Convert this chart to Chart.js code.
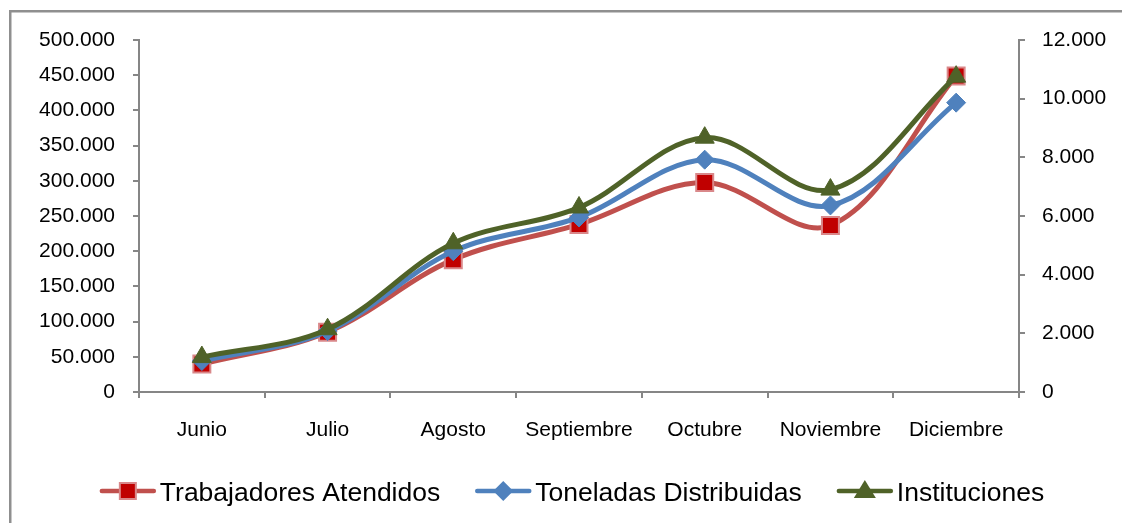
<!DOCTYPE html>
<html>
<head>
<meta charset="utf-8">
<script src="https://cdn.jsdelivr.net/npm/chart.js@4.4.0/dist/chart.umd.min.js"></script>
<style>
  html, body { margin: 0; padding: 0; background: #ffffff; }
  #wrap { position: relative; width: 1122px; height: 523px; }
  canvas { display: block; }
</style>
</head>
<body>
<div id="wrap"><canvas id="c" width="1122" height="523"></canvas></div>
<script>
const categories = ['Junio', 'Julio', 'Agosto', 'Septiembre', 'Octubre', 'Noviembre', 'Diciembre'];
const trabajadores = [39700, 85000, 188000, 238000, 297500, 236500, 449000];
const toneladas = [44000, 86500, 200000, 248000, 330000, 265000, 411000];
const instituciones = [1190, 2140, 5070, 6290, 8670, 6900, 10750];
const seriesNames = ['Trabajadores Atendidos', 'Toneladas Distribuidas', 'Instituciones'];

const FONT = '"Liberation Sans", Arial, sans-serif';
const AXIS = '#868686';

function fmt(v) {
  return String(Math.round(v)).replace(/\B(?=(\d{3})+(?!\d))/g, '.');
}

function drawMarker(ctx, style, x, y, fill, stroke) {
  ctx.save();
  ctx.fillStyle = fill;
  ctx.strokeStyle = stroke;
  ctx.lineWidth = 2;
  ctx.beginPath();
  if (style === 'rect') {
    ctx.rect(x - 8, y - 8, 16, 16);
    ctx.fill(); ctx.stroke();
  } else if (style === 'rectRot') {
    ctx.moveTo(x, y - 10); ctx.lineTo(x + 10, y); ctx.lineTo(x, y + 10); ctx.lineTo(x - 10, y); ctx.closePath();
    ctx.fill();
  } else {
    ctx.moveTo(x, y - 11); ctx.lineTo(x + 11, y + 7); ctx.lineTo(x - 11, y + 7); ctx.closePath();
    ctx.fill();
  }
  ctx.restore();
}

const framePlugin = {
  id: 'frame',
  beforeDraw(chart) {
    const ctx = chart.ctx;
    ctx.save();
    ctx.fillStyle = '#ffffff';
    ctx.fillRect(0, 0, chart.width, chart.height);
    ctx.fillStyle = '#8f8f8f';
    ctx.fillRect(9, 10, 2.5, chart.height - 10);
    ctx.fillRect(9, 10, chart.width - 9, 2.5);
    ctx.restore();
  }
};

const legendPlugin = {
  id: 'customLegend',
  afterDraw(chart) {
    const ctx = chart.ctx;
    ctx.save();
    ctx.font = '26.5px ' + FONT;
    const lineLen = 56, gapText = 4, gapItems = 35;
    const items = chart.data.datasets.map(ds => ({
      ds, w: lineLen + gapText + ctx.measureText(ds.label).width
    }));
    const total = items.reduce((s, it) => s + it.w, 0) + gapItems * (items.length - 1);
    let x = 572 - total / 2;
    const y = 491;
    items.forEach(it => {
      const ds = it.ds;
      ctx.strokeStyle = ds.borderColor;
      ctx.lineWidth = 4.5;
      ctx.lineCap = 'round';
      ctx.beginPath();
      ctx.moveTo(x + 2, y);
      ctx.lineTo(x + lineLen - 2, y);
      ctx.stroke();
      drawMarker(ctx, ds.pointStyle, x + lineLen / 2, y, ds.pointBackgroundColor, ds.pointBorderColor);
      ctx.fillStyle = '#000000';
      ctx.textBaseline = 'alphabetic';
      ctx.textAlign = 'left';
      ctx.fillText(ds.label, x + lineLen + gapText, y + 9.5);
      x += it.w + gapItems;
    });
    ctx.restore();
  }
};

const tickFont = { family: FONT, size: 21 };

new Chart(document.getElementById('c'), {
  type: 'line',
  data: {
    labels: categories,
    datasets: [
      {
        label: seriesNames[0],
        data: trabajadores,
        yAxisID: 'y',
        borderColor: '#C0504D',
        borderWidth: 5,
        pointStyle: 'rect',
        pointRadius: 12,
        pointBackgroundColor: '#C00000',
        pointBorderColor: '#D9888A',
        pointBorderWidth: 2,
        tension: 0.35,
        order: 3
      },
      {
        label: seriesNames[1],
        data: toneladas,
        yAxisID: 'y',
        borderColor: '#4F81BD',
        borderWidth: 5,
        pointStyle: 'rectRot',
        pointRadius: 9.5,
        pointBackgroundColor: '#4F81BD',
        pointBorderColor: '#4F81BD',
        pointBorderWidth: 1,
        tension: 0.35,
        order: 2
      },
      {
        label: seriesNames[2],
        data: instituciones,
        yAxisID: 'y1',
        borderColor: '#4F6228',
        borderWidth: 5,
        pointStyle: 'triangle',
        pointRadius: 11,
        pointBackgroundColor: '#4F6228',
        pointBorderColor: '#4F6228',
        pointBorderWidth: 1,
        tension: 0.35,
        order: 1
      }
    ]
  },
  options: {
    responsive: false,
    animation: false,
    layout: { padding: { top: 40, left: 0, right: 0, bottom: 0 } },
    plugins: {
      legend: { display: false },
      tooltip: { enabled: false },
      title: { display: false }
    },
    scales: {
      x: {
        offset: true,
        grid: { display: true, drawOnChartArea: false, drawTicks: true, tickLength: 6, color: AXIS, lineWidth: 2, offset: true },
        border: { display: true, color: AXIS, width: 2 },
        ticks: { font: tickFont, color: '#000000', padding: 20, maxRotation: 0, autoSkip: false },
        afterFit(s) { s.height = 131; }
      },
      y: {
        position: 'left',
        min: 0, max: 500000,
        grid: { display: true, drawOnChartArea: false, drawTicks: true, tickLength: 6, color: AXIS, lineWidth: 2 },
        border: { display: true, color: AXIS, width: 2 },
        ticks: { stepSize: 50000, font: tickFont, color: '#000000', padding: 18, callback: v => fmt(v) },
        afterFit(s) { s.width = 139; }
      },
      y1: {
        position: 'right',
        min: 0, max: 12000,
        grid: { display: true, drawOnChartArea: false, drawTicks: true, tickLength: 6, color: AXIS, lineWidth: 2 },
        border: { display: true, color: AXIS, width: 2 },
        ticks: { stepSize: 2000, font: tickFont, color: '#000000', padding: 17, callback: v => fmt(v) },
        afterFit(s) { s.width = 103; }
      }
    }
  },
  plugins: [framePlugin, legendPlugin]
});
</script>
</body>
</html>
